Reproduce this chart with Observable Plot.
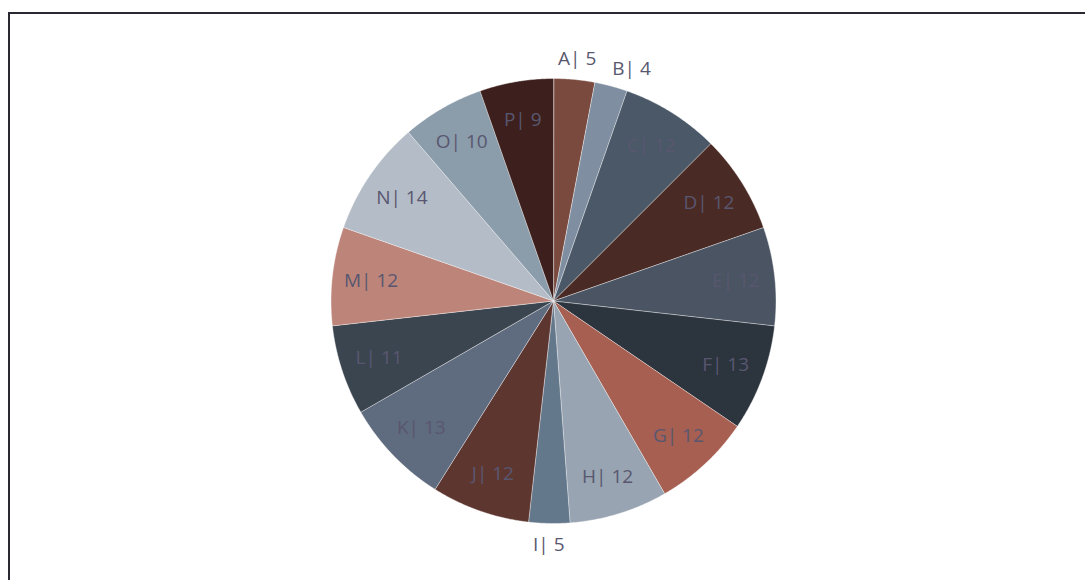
<!DOCTYPE html>
<html>
<head>
<meta charset="utf-8">
<script src="https://cdn.jsdelivr.net/npm/d3@7"></script>
<script src="https://cdn.jsdelivr.net/npm/@observablehq/plot@0.6"></script>
<style>
  html, body { margin: 0; padding: 0; background: #ffffff; }
  #wrap { position: relative; width: 1085px; height: 580px; overflow: hidden; }
  #frame { position: absolute; left: 8px; top: 12px; width: 1200px; height: 700px; border: 2px solid #2a2932; box-sizing: border-box; }
  #chart { position: absolute; left: 0; top: 0; }
</style>
</head>
<body>
<div id="wrap"><div id="frame"></div><div id="chart"></div></div>
<script>
const categories = ["A","B","C","D","E","F","G","H","I","J","K","L","M","N","O","P"];
const values = [5,4,12,12,12,13,12,12,5,12,13,11,12,14,10,9];
const colors = ["#7a4a3f","#7f8ea0","#4a5868","#4a2a24","#4a5462","#2c343e","#a65f50","#98a4b1",
                "#64788c","#5e3630","#5f6b7e","#3b4550","#bd8479","#b4bcc7","#8b9cab","#3d201d"];

const data = categories.map((c, i) => ({name: c, value: values[i]}));
const arcs = d3.pie().sort(null).value(d => d.value)(data);

const cx = 553, cy = 300.5, R = 222.5;

// polygon points for each slice (unit circle, angle clockwise from top)
const pts = [];
for (const a of arcs) {
  pts.push({name: a.data.name, x: 0, y: 0});
  const n = Math.max(2, Math.ceil((a.endAngle - a.startAngle) / 0.005));
  for (let k = 0; k <= n; k++) {
    const t = a.startAngle + (a.endAngle - a.startAngle) * k / n;
    pts.push({name: a.data.name, x: Math.sin(t), y: Math.cos(t)});
  }
}

// labels: inside for large slices, outside (with simple overlap avoidance) for small ones
const charW = 10.3 / R, boxH = 20 / R, pad = 12 / R;
const placed = [];
const labels = arcs.map(a => {
  const text = `${a.data.name}| ${a.data.value}`;
  let m = (a.startAngle + a.endAngle) / 2;
  if (a.data.value > 5) {
    return {text, x: 0.825 * Math.sin(m), y: 0.825 * Math.cos(m)};
  }
  const w = text.length * charW;
  let x, y;
  for (let iter = 0; iter < 200; iter++) {
    x = 1.05 * Math.sin(m) + (w / 2) * Math.sin(m);
    y = 1.05 * Math.cos(m) + (boxH / 2) * Math.cos(m);
    const hit = placed.some(p => Math.abs(p.x - x) < (p.w + w) / 2 + pad && Math.abs(p.y - y) < boxH);
    if (!hit) break;
    m += 0.01;
  }
  placed.push({x, y, w});
  return {text, x, y};
});

const chart = Plot.plot({
  width: 1085,
  height: 580,
  margin: 0,
  x: {domain: [-1, 1], range: [cx - R, cx + R], axis: null},
  y: {domain: [-1, 1], range: [cy + R, cy - R], axis: null},
  color: {domain: categories, range: colors},
  style: {background: "transparent", fontFamily: "'Open Sans', sans-serif"},
  marks: [
    Plot.line(pts, {x: "x", y: "y", z: "name", fill: "name", stroke: "#ffffff", strokeWidth: 0.6, strokeOpacity: 0.7, curve: "linear-closed"}),
    Plot.text(labels, {x: "x", y: "y", text: "text", fill: "#595770", fontSize: 19})
  ]
});
document.getElementById("chart").appendChild(chart);
</script>
</body>
</html>
